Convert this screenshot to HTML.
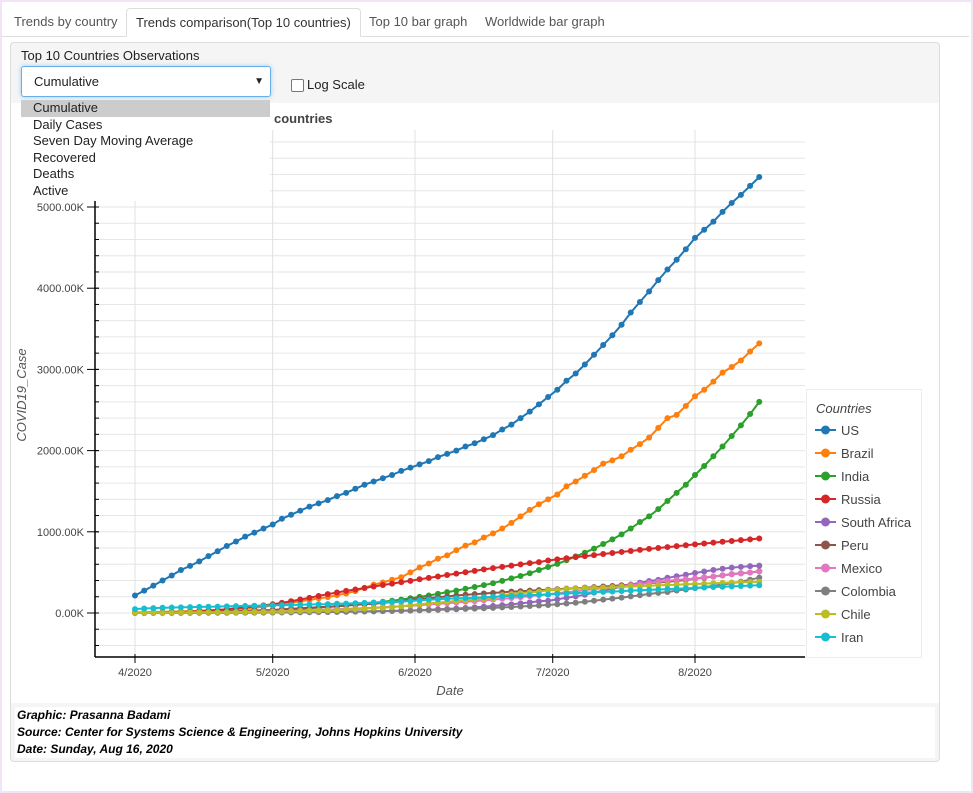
<!DOCTYPE html>
<html><head><meta charset="utf-8"><style>
html,body{margin:0;padding:0}
body{width:973px;height:793px;position:relative;background:#fff;font-family:"Liberation Sans",Arial,sans-serif;overflow:hidden}
.frame{position:absolute;left:0;top:0;width:969px;height:789px;border:2px solid #f1e4f9}
.tab{position:absolute;top:8px;height:27px;line-height:28px;font-size:13px;color:#555;padding:0 9px}
.tab.active{border:1px solid #ddd;border-bottom:1px solid #fff;border-radius:4px 4px 0 0;color:#333;background:#fff}
.dd{position:absolute;left:21px;top:100px;width:249px;height:101px;background:#fff;font-size:13px;color:#222;z-index:5}
.dd div{height:16.6px;line-height:16.6px;padding-left:12px}
</style></head><body>
<div class="frame"></div>
<div style="position:absolute;left:2px;top:36px;width:967px;height:1px;background:#ddd"></div>
<div class="tab" style="left:5px">Trends by country</div>
<div class="tab active" style="left:126px">Trends comparison(Top 10 countries)</div>
<div class="tab" style="left:360px">Top 10 bar graph</div>
<div class="tab" style="left:476px">Worldwide bar graph</div>

<div style="position:absolute;left:10px;top:42px;width:928px;height:718px;border:1px solid #ddd;border-radius:4px;background:#f5f5f5"></div>
<div style="position:absolute;left:11px;top:103px;width:928px;height:600px;background:#fff"></div>
<div style="position:absolute;left:15px;top:707px;width:920px;height:51px;background:#fff;font-size:12px;font-weight:bold;font-style:italic;color:#000;line-height:17px;padding-left:2px;box-sizing:border-box;padding-top:0">
<div>Graphic: Prasanna Badami</div><div>Source: Center for Systems Science &amp; Engineering, Johns Hopkins University</div><div>Date: Sunday, Aug 16, 2020</div></div>

<div style="position:absolute;left:21px;top:48px;font-size:13px;color:#222">Top 10 Countries Observations</div>
<div style="position:absolute;left:21px;top:66px;width:248px;height:29px;border:1px solid #66afe9;border-radius:3px;background:#fff;box-shadow:0 0 5px rgba(102,175,233,.6);font-size:13px;line-height:29px;color:#222"><span style="padding-left:12px">Cumulative</span><span style="position:absolute;right:6px;top:0;font-size:10px">▼</span></div>
<div style="position:absolute;left:291px;top:79px;width:11px;height:11px;border:1px solid #777;border-radius:2px;background:#fff"></div>
<div style="position:absolute;left:307px;top:77px;font-size:13px;color:#222">Log Scale</div>
<div class="dd">
<div style="background:#ccc">Cumulative</div>
<div>Daily Cases</div>
<div>Seven Day Moving Average</div>
<div>Recovered</div>
<div>Deaths</div>
<div>Active</div>
</div>

<svg id="chart" width="973" height="793" style="position:absolute;left:0;top:0" font-family="Liberation Sans, Arial, sans-serif"></svg>
<script>
const countries=["US","Brazil","India","Russia","South Africa","Peru","Mexico","Colombia","Chile","Iran"];
const colors=["#1f77b4","#ff7f0e","#2ca02c","#d62728","#9467bd","#8c564b","#e377c2","#7f7f7f","#bcbd22","#17becf"];
const xTickLabels=["4/2020","5/2020","6/2020","7/2020","8/2020"];
const xTickDays=[0,30,61,91,122];
const yTickLabels=["0.00K","1000.00K","2000.00K","3000.00K","4000.00K","5000.00K"];
const yTickValues=[0,1000,2000,3000,4000,5000];
const US=[215,276,337,400,462,530,580,636,700,760,825,880,940,990,1040,1090,1160,1210,1260,1310,1350,1390,1440,1480,1530,1580,1620,1660,1700,1750,1790,1830,1870,1920,1960,2000,2050,2090,2140,2190,2260,2320,2400,2480,2570,2660,2750,2860,2950,3060,3180,3300,3420,3550,3700,3830,3960,4100,4230,4350,4480,4620,4720,4820,4940,5050,5150,5260,5370];
const Brazil=[7,9,11,14,17,20,23,28,33,38,43,50,58,66,78,92,105,125,145,160,180,195,220,240,270,310,350,375,410,440,500,560,610,670,710,775,830,870,930,980,1040,1110,1190,1270,1340,1400,1460,1560,1620,1690,1760,1840,1880,1930,2010,2080,2160,2280,2400,2440,2550,2670,2750,2850,2960,3030,3110,3220,3320];
const India=[2,3,4,5,6,8,9,11,13,15,18,21,24,27,31,35,40,46,53,60,67,74,82,91,101,112,125,138,151,165,182,198,216,236,257,276,298,320,343,367,396,426,456,490,529,566,605,649,697,742,793,850,907,969,1040,1120,1190,1280,1380,1480,1580,1700,1810,1930,2050,2180,2310,2450,2600];
const Russia=[3,4,5,7,9,12,15,21,27,36,47,58,69,81,94,107,125,145,166,187,210,232,252,272,290,308,326,345,362,380,396,415,432,450,468,485,502,519,537,553,568,584,599,614,627,647,660,674,688,700,713,726,739,752,764,777,789,800,812,823,834,845,856,866,877,887,897,907,917];
const SouthAfrica=[1,2,2,2,2,2,2,3,3,3,3,4,4,5,5,6,7,8,9,10,11,12,14,16,18,20,22,24,26,28,31,35,40,45,50,55,62,70,78,87,97,106,118,131,144,151,168,188,205,225,251,276,298,324,350,373,394,408,434,452,471,493,511,529,545,559,568,577,583];
const Peru=[1,2,3,4,6,8,11,14,16,20,22,25,28,32,33,36,45,51,58,65,72,78,85,94,100,108,115,124,135,141,164,175,183,196,203,215,225,232,240,247,254,264,268,275,282,286,292,300,305,312,319,326,333,342,350,357,366,375,384,395,407,422,433,448,463,479,489,498,516];
const Mexico=[1,2,2,3,3,4,5,6,7,8,10,11,13,15,17,19,23,26,29,33,36,40,45,50,54,60,65,71,78,84,90,97,105,113,120,129,139,146,155,165,175,185,196,208,220,226,245,256,268,282,295,304,317,331,345,356,370,385,395,408,416,425,440,450,462,475,486,498,511];
const Colombia=[1,1,2,2,2,3,3,3,4,4,4,5,5,6,6,7,8,9,10,11,12,13,14,16,17,19,20,23,25,27,29,32,35,39,43,46,51,54,58,63,69,74,80,86,92,98,107,117,126,138,151,165,177,190,205,218,234,248,258,277,290,306,318,335,351,367,387,410,435];
const Chile=[3,4,4,5,6,7,8,9,10,10,11,11,12,13,14,16,19,22,24,26,28,31,34,41,46,53,61,66,73,82,94,106,118,127,138,148,160,167,175,180,220,232,243,254,263,280,285,295,302,306,309,312,317,321,327,331,336,341,345,349,353,357,362,366,371,375,378,382,385];
const Iran=[48,55,60,64,67,70,72,75,77,79,82,85,87,89,91,94,97,99,102,105,108,110,114,116,120,124,129,133,137,141,148,157,164,171,175,180,184,189,195,198,204,210,215,220,225,228,235,240,245,250,255,260,264,270,276,280,284,289,294,298,303,309,314,320,324,328,333,337,342];
const series=[US,Brazil,India,Russia,SouthAfrica,Peru,Mexico,Colombia,Chile,Iran];

const NS="http://www.w3.org/2000/svg";
const svg=document.getElementById("chart");
const L=95,R=805,T=130,B=657;
const x=d=>135+d*(695-135)/122;
const y=v=>613-v*0.0812;
function mk(tag,attrs,parent){const e=document.createElementNS(NS,tag);for(const k in attrs)e.setAttribute(k,attrs[k]);(parent||svg).appendChild(e);return e;}

// grid
for(let v=-400;v<=5800;v+=200){
  if(y(v)<T||y(v)>B)continue;
  const g=mk("line",{x1:L,x2:R,y1:y(v),y2:y(v),stroke:"#e6e6e6","stroke-width":1});
  
  
  const t=mk("line",{x1:L,x2:L+4,y1:y(v),y2:y(v),stroke:"#000","stroke-width":1});
  
  
}
xTickDays.forEach((d,i)=>{
  const g=mk("line",{x1:x(d),x2:x(d),y1:T,y2:B,stroke:"#e0e0e0","stroke-width":1});
  
  
  const t=mk("line",{x1:x(d),x2:x(d),y1:B-3,y2:B+6,stroke:"#000","stroke-width":1});
  
  
  const lb=mk("text",{x:x(d),y:B+19,"text-anchor":"middle","font-size":11,fill:"#444"});
  lb.textContent=xTickLabels[i];
  
  
});
yTickValues.forEach((v,i)=>{
  const t=mk("line",{x1:L-8,x2:L+4,y1:y(v),y2:y(v),stroke:"#000","stroke-width":1});
  
  
  const lb=mk("text",{x:L-11,y:y(v)+4,"text-anchor":"end","font-size":11,fill:"#444"});
  lb.textContent=yTickLabels[i];
  
  
});
const ax=mk("line",{x1:L,x2:L,y1:T+70,y2:B,stroke:"#000","stroke-width":1.5});


const bx=mk("line",{x1:L,x2:R,y1:B,y2:B,stroke:"#000","stroke-width":1.5});



const xt=mk("text",{x:450,y:695,"text-anchor":"middle","font-size":13,"font-style":"italic",fill:"#555"});
xt.textContent="Date";


const yt=mk("text",{x:0,y:0,"text-anchor":"middle","font-size":13,"font-style":"italic",fill:"#555",transform:"translate(26,395) rotate(-90)"});
yt.textContent="COVID19_Case";


const ti=mk("text",{x:274,y:123,"font-size":13,"font-weight":"bold",fill:"#444"});
ti.textContent="countries";



// series
series.forEach((s,si)=>{
  const g=mk("g",{});
  
  
  const pts=s.map((v,i)=>x(i*2).toFixed(1)+","+y(v).toFixed(1)).join(" ");
  mk("polyline",{points:pts,fill:"none",stroke:colors[si],"stroke-width":2},g);
  s.forEach((v,i)=>{
    const c=mk("circle",{cx:x(i*2),cy:y(v),r:3,fill:colors[si]},g);
    
    
  });
});

// legend
const lg=mk("g",{});


mk("rect",{x:806.5,y:389.5,width:115,height:268,fill:"#fff",stroke:"#ececec"},lg);
const lt=mk("text",{x:816,y:413,"font-size":13,"font-style":"italic",fill:"#444"},lg);
lt.textContent="Countries";
countries.forEach((c,i)=>{
  const yy=430+i*23;
  const e=mk("g",{},lg);
  
  
  mk("line",{x1:815,x2:836,y1:yy,y2:yy,stroke:colors[i],"stroke-width":2},e);
  mk("circle",{cx:825.5,cy:yy,r:4.5,fill:colors[i]},e);
  const t=mk("text",{x:841,y:yy+5,"font-size":13,fill:"#444"},e);
  t.textContent=c;
});
</script>
</body></html>
